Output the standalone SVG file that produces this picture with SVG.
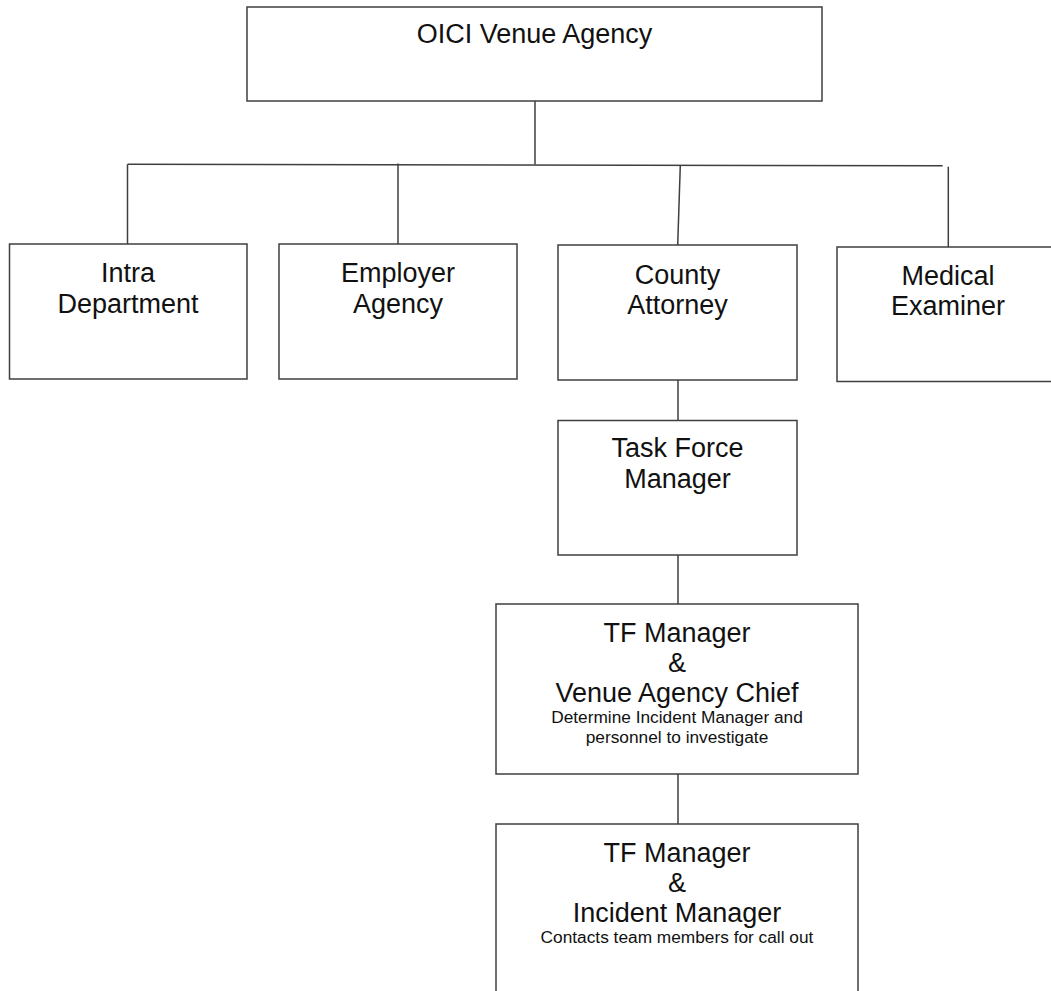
<svg xmlns="http://www.w3.org/2000/svg" width="1051" height="991" viewBox="0 0 1051 991">
<style>
.box{fill:#ffffff;stroke:#3f3f3f;stroke-width:1.5}
.ln{fill:none;stroke:#3f3f3f;stroke-width:1.5}
.t{font-family:"Liberation Sans",Arial,sans-serif;font-size:27px;fill:#111;text-anchor:middle}
.s{font-family:"Liberation Sans",Arial,sans-serif;font-size:17.3px;fill:#111;text-anchor:middle}
</style>
<rect width="1051" height="991" fill="#ffffff"/>
<g id="connectors">
<line class="ln" x1="535" y1="101" x2="535" y2="164.5"/>
<line class="ln" x1="127.5" y1="164.3" x2="942.7" y2="165.7"/>
<line class="ln" x1="127.5" y1="164.3" x2="127.5" y2="244"/>
<line class="ln" x1="398" y1="163.5" x2="398" y2="244"/>
<line class="ln" x1="680.3" y1="165.3" x2="677.7" y2="245"/>
<line class="ln" x1="948.3" y1="166.7" x2="948.3" y2="247"/>
<line class="ln" x1="678" y1="380" x2="678" y2="420.5"/>
<line class="ln" x1="678" y1="555" x2="678" y2="604"/>
<line class="ln" x1="678" y1="774" x2="678" y2="824"/>
</g>
<g id="oici">
<rect class="box" x="247" y="7" width="575" height="94"/>
<text class="t" x="534.5" y="43">OICI Venue Agency</text>
</g>
<g id="intra">
<rect class="box" x="9.5" y="244" width="237.5" height="135"/>
<text class="t" x="128" y="282">Intra</text>
<text class="t" x="128" y="312.5">Department</text>
</g>
<g id="employer">
<rect class="box" x="279" y="244" width="238" height="135"/>
<text class="t" x="398" y="282">Employer</text>
<text class="t" x="398" y="312.5">Agency</text>
</g>
<g id="county">
<rect class="box" x="558" y="245" width="239" height="135"/>
<text class="t" x="677.5" y="284">County</text>
<text class="t" x="677.5" y="314">Attorney</text>
</g>
<g id="medical">
<rect class="box" x="837" y="247" width="224" height="134.5"/>
<text class="t" x="948" y="285">Medical</text>
<text class="t" x="948" y="315">Examiner</text>
</g>
<g id="taskforce">
<rect class="box" x="558" y="420.5" width="239" height="134.5"/>
<text class="t" x="677.5" y="457">Task Force</text>
<text class="t" x="677.5" y="488">Manager</text>
</g>
<g id="venuechief">
<rect class="box" x="496" y="604" width="362" height="170"/>
<text class="t" x="677" y="642">TF Manager</text>
<text class="t" x="677" y="672">&amp;</text>
<text class="t" x="677" y="702">Venue Agency Chief</text>
<text class="s" x="677" y="723">Determine Incident Manager and</text>
<text class="s" x="677" y="743">personnel to investigate</text>
</g>
<g id="incident">
<rect class="box" x="496" y="824" width="362" height="180"/>
<text class="t" x="677" y="862">TF Manager</text>
<text class="t" x="677" y="892">&amp;</text>
<text class="t" x="677" y="922">Incident Manager</text>
<text class="s" x="677" y="943">Contacts team members for call out</text>
</g>
</svg>
